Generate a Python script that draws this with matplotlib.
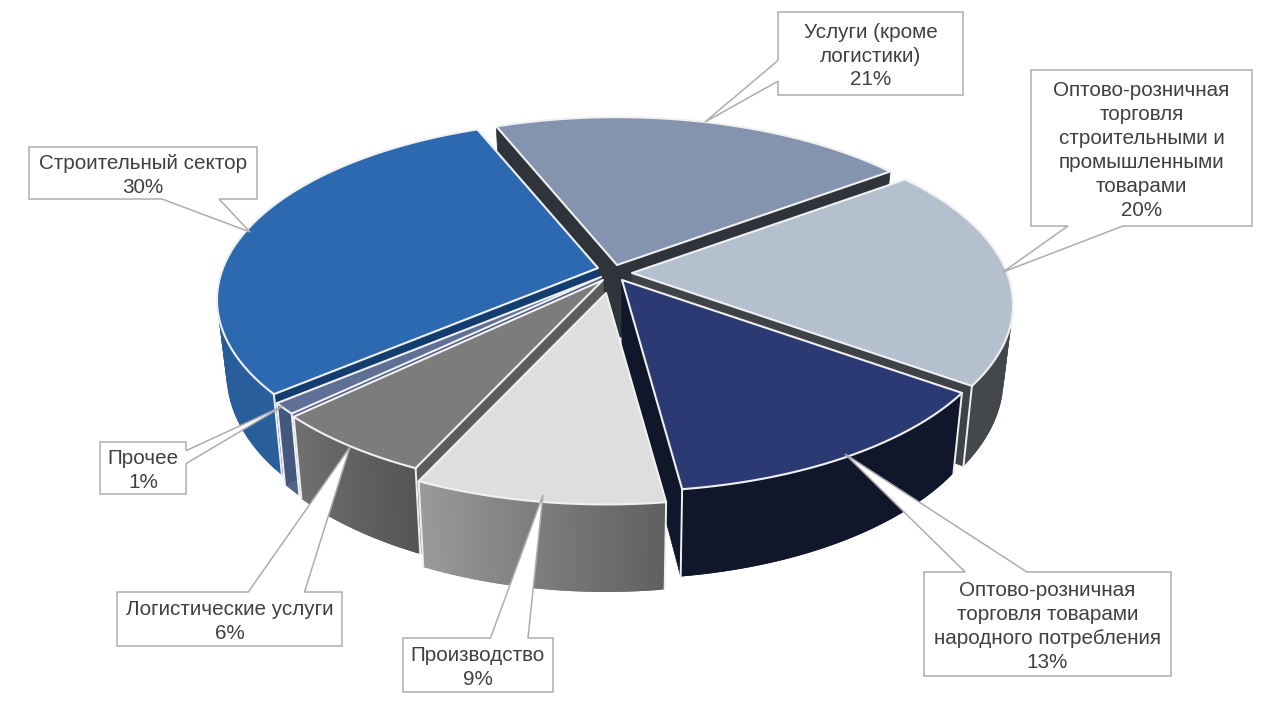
import numpy as np
import matplotlib
matplotlib.use("Agg")
from matplotlib import pyplot as plt
from matplotlib.patches import Polygon

plt.rcParams['font.family'] = ['Liberation Sans', 'DejaVu Sans']

# clockwise from the top
labels = ["Услуги (кроме\nлогистики)\n21%",
          "Оптово-розничная\nторговля\nстроительными и\nпромышленными\nтоварами\n20%",
          "Оптово-розничная\nторговля товарами\nнародного потребления\n13%",
          "Производство\n9%",
          "Логистические услуги\n6%",
          "Прочее\n1%",
          "Строительный сектор\n30%"]
values = [21, 20, 13, 9, 6, 1, 30]

top_colors = ["#8594ae", "#b5c0cf", "#2b3a73", "#dedede", "#7c7c7c", "#5f6f96", "#2c69b0"]
cut_colors = ["#2f343b", "#3f4347", "#10172a", "#666666", "#5c5c5c", "#44587f", "#123d6e"]
wall_start = ["#5a6478", "#3a3e42", "#10172a", "#606060", "#555555", "#44587f", "#2a5f9e"]
wall_end = ["#5a6478", "#45494e", "#10172a", "#9a9a9a", "#707070", "#44587f", "#21558f"]

# apex of every exploded slice on the picture, and the drawing order
apex = [(617, 265), (632, 273), (622, 280), (606, 293), (603, 280), (601, 277), (598, 268)]
draw_order = [0, 1, 6, 5, 4, 2, 3]

# box: left, top, right, bottom; tip of the callout
boxes = [(778, 12, 963, 95), (1031, 70, 1252, 226), (924, 572, 1171, 676), (403, 638, 553, 692),
         (117, 592, 342, 646), (100, 442, 186, 494), (29, 147, 257, 199)]
tips = [(705, 122), (1003, 272), (845, 454), (543, 495), (350, 447), (283, 406), (250, 232)]

START_ANGLE = 112.0
R = 375.0
S = 174.0
K = 0.177
DEPTH = 72.0
SHRINK = 0.975
LINE = "#f0f0f0"


def project(ang, center):
    x = np.cos(np.radians(ang))
    y = np.sin(np.radians(ang))
    w = 1 + K * y
    return center[0] + R * x / w, center[1] - S * y / w, w


def lower(px, py, w, center):
    return center[0] + (px - center[0]) * SHRINK, py + DEPTH / w


def mix(c1, c2, f):
    a = np.array(matplotlib.colors.to_rgb(c1))
    b = np.array(matplotlib.colors.to_rgb(c2))
    return tuple(a + (b - a) * f)


def draw_slice(ax, a0, a1, center, top, cut, w0, w1):
    angs = np.linspace(a0, a1, 60)
    px, py, w = project(angs, center)
    bx, by = lower(px, py, w, center)
    down = DEPTH / 0.98

    # flat cut faces
    for i in (0, -1):
        ax.add_patch(Polygon([center, (px[i], py[i]), (bx[i], by[i]), (center[0], center[1] + down)],
                             fc=cut, ec=cut, lw=0.5))
    # outer wall, cut in overlapping strips for the gradient, only the part that faces us
    for i in range(len(angs) - 1):
        if np.sin(np.radians(angs[i])) > 0.05:
            continue
        c = mix(w0, w1, i / (len(angs) - 2))
        j = min(i + 2, len(angs) - 1)
        ax.add_patch(Polygon([(px[i], py[i]), (px[j], py[j]), (bx[j], by[j]), (bx[i], by[i])],
                             fc=c, ec='none'))
    for i in (0, -1):
        if np.sin(np.radians(angs[i])) < 0:
            ax.plot([px[i], bx[i]], [py[i], by[i]], color=LINE, lw=1.4, solid_capstyle='round')
    ax.add_patch(Polygon(list(zip(px, py)) + [center], fc=top, ec=LINE, lw=1.5, joinstyle='round'))


def callout(ax, box, tip, text):
    l, t, r, b = box
    wd, ht = r - l, b - t
    # the wedge leaves the box on the side that faces the tip
    cx, cy = (l + r) / 2, (t + b) / 2
    if abs(tip[1] - cy) / ht > abs(tip[0] - cx) / wd:
        f = (1 / 6, 5 / 12) if tip[0] < cx else (7 / 12, 5 / 6)
        base = [(l + wd * f[0], t), tip, (l + wd * f[1], t)] if tip[1] < t else [(l + wd * f[1], b), tip, (l + wd * f[0], b)]
        pts = [(l, t)] + (base if tip[1] < t else []) + [(r, t), (r, b)] + (base if tip[1] > b else []) + [(l, b)]
    else:
        f = (1 / 6, 5 / 12) if tip[1] < cy else (7 / 12, 5 / 6)
        if tip[0] < l:
            base = [(l, t + ht * f[1]), tip, (l, t + ht * f[0])]
            pts = [(l, t), (r, t), (r, b), (l, b)] + base
        else:
            base = [(r, t + ht * f[0]), tip, (r, t + ht * f[1])]
            pts = [(l, t), (r, t)] + base + [(r, b), (l, b)]
    ax.add_patch(Polygon(pts, fc="white", ec="#adadad", lw=1.1, zorder=5))
    ax.text(cx, cy + 2.5, text, ha='center', va='center', fontsize=14.9, color="#404040",
            linespacing=1.33, zorder=6)


fig = plt.figure(figsize=(12.8, 7.06), dpi=100)
ax = fig.add_axes([0, 0, 1, 1])
ax.set_xlim(0, 1280)
ax.set_ylim(706, 0)
ax.axis('off')

edges = START_ANGLE - np.cumsum([0] + values) * 3.6
for n in draw_order:
    draw_slice(ax, edges[n], edges[n + 1], apex[n], top_colors[n], cut_colors[n], wall_start[n], wall_end[n])

for n in range(len(values)):
    callout(ax, boxes[n], tips[n], labels[n])

plt.savefig("out.png", dpi=100)
